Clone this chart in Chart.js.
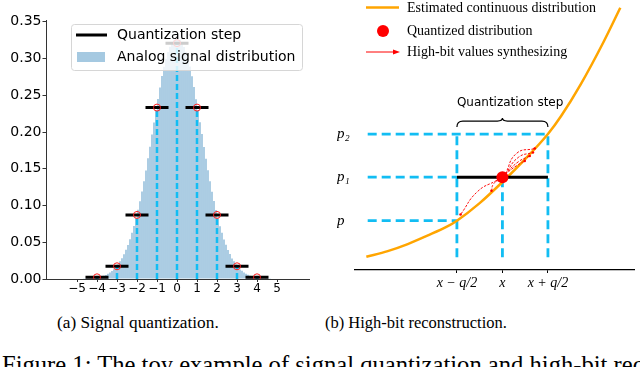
<!DOCTYPE html>
<html><head><meta charset="utf-8">
<script src="https://cdn.jsdelivr.net/npm/chart.js@4/dist/chart.umd.min.js"></script>
<style>
html,body{margin:0;padding:0;background:#fff;width:640px;height:367px;overflow:hidden;position:relative}
#wa{position:absolute;left:0;top:0;width:320px;height:300px}
#wb{position:absolute;left:320px;top:0;width:320px;height:300px}
.cap{position:absolute;font-family:"Liberation Serif","Times New Roman",serif;color:#000;white-space:nowrap;line-height:1}
</style></head><body>
<div id="wa"><canvas id="ca" width="320" height="300"></canvas></div>
<div id="wb"><canvas id="cb" width="320" height="300"></canvas></div>
<div class="cap" style="left:57px;top:314px;font-size:17.3px">(a) Signal quantization.</div>
<div class="cap" style="left:325px;top:315px;font-size:16.5px">(b) High-bit reconstruction.</div>
<div class="cap" style="left:2px;top:353px;font-size:24.6px">Figure 1: The toy example of signal quantization and high-bit reconstruction.</div>
<script>
// ---------- (a) data ----------
const histX = [-4.65,-4.55,-4.45,-4.35,-4.25,-4.15,-4.05,-3.95,-3.85,-3.75,-3.65,-3.55,-3.45,-3.35,-3.25,-3.15,-3.05,-2.95,-2.85,-2.75,-2.65,-2.55,-2.45,-2.35,
               -2.25,-2.15,-2.05,-1.95,-1.85,-1.75,-1.65,-1.55,-1.45,-1.35,-1.25,-1.15,-1.05,-0.95,-0.85,-0.75,-0.65,-0.55,-0.45,-0.35,-0.25,-0.15,-0.05,
               0.05,0.15,0.25,0.35,0.45,0.55,0.65,0.75,0.85,0.95,1.05,1.15,1.25,1.35,1.45,1.55,1.65,1.75,1.85,1.95,2.05,2.15,2.25,2.35,
               2.45,2.55,2.65,2.75,2.85,2.95,3.05,3.15,3.25,3.35,3.45,3.55,3.65,3.75,3.85,3.95,4.05,4.15,4.25,4.35,4.45,4.55,4.65];
const histY = [0.0003,0.0004,0.0006,0.0008,0.0010,0.0013,0.0017,0.0022,0.0028,0.0036,0.0045,0.0056,0.0071,0.0089,0.0110,0.0132,0.0161,0.0198,0.0241,0.0283,0.0338,0.0398,0.0462,0.0541,
               0.0628,0.0722,0.0831,0.0942,0.1058,0.1191,0.1332,0.1478,0.1642,0.1801,0.1968,0.2131,0.2292,0.2451,0.2608,0.2762,0.2889,0.2998,0.3091,0.3162,0.3208,0.3249,0.3268,
               0.3271,0.3252,0.3211,0.3158,0.3088,0.3002,0.2893,0.2758,0.2612,0.2447,0.2289,0.2134,0.1972,0.1798,0.1638,0.1481,0.1329,0.1188,0.1061,0.0939,0.0834,0.0719,0.0631,0.0538,
               0.0465,0.0395,0.0341,0.0280,0.0243,0.0196,0.0163,0.0130,0.0111,0.0087,0.0072,0.0057,0.0044,0.0035,0.0028,0.0021,0.0017,0.0012,0.0010,0.0007,0.0005,0.0004,0.0002];
const quantX = [-4,-3,-2,-1,0,1,2,3,4];
const quantY = [0.0023,0.0173,0.0872,0.2333,0.321,0.2333,0.0872,0.0173,0.0023];
const quantStep = 1;
const xTicksA = [-5,-4,-3,-2,-1,0,1,2,3,4,5];
const yTicksA = [0,0.05,0.10,0.15,0.20,0.25,0.30,0.35];
const legendA = ['Quantization step','Analog signal distribution'];

// ---------- (b) data ----------
const curveX = [-2.99,-2.52,-2.08,-1.65,-1.21,-1.0,-0.5,0.0,0.5,1.0,1.29,1.72,2.23,2.59];
const curveY = [0.30,0.43,0.59,0.78,0.99,1.12,1.52,2.0,2.52,3.09,3.50,4.22,5.20,5.96];
const qPointsX = [-1,0,1];            // x - q/2, x, x + q/2
const qPointsY = [1.12,2.11,3.09];     // p, p1, p2
const xLabelsB = ['x − q/2','x','x + q/2'];
const yLabelsB = ['p','p₁','p₂'];
const guideLeft = -2.96, guideBottom = 0.29;
const arcsX = [[-0.12,-0.55,-0.92],[-0.08,-0.20,-0.24],[0.06,0.31,0.71],[0.06,0.35,0.67],[0.06,0.35,0.60],[0.06,0.31,0.49]];
const arcsY = [[2.04,1.78,1.26],[2.05,1.95,1.80],[2.18,2.65,2.76],[2.18,2.56,2.67],[2.18,2.46,2.59],[2.18,2.37,2.48]];
const legendB = ['Estimated continuous distribution','Quantized distribution','High-bit values synthesizing'];

const CYAN = '#12bdf3';
const minus = v => v < 0 ? '−' + Math.abs(v) : String(v);

// ---------- chart (a) ----------
const dashA = [], stepA = [];
quantX.forEach((k,i)=>{
  dashA.push({x:k,y:0},{x:k,y:quantY[i]},{x:k,y:null});
  stepA.push({x:k-quantStep/2,y:quantY[i]},{x:k+quantStep/2,y:quantY[i]},{x:k+quantStep/2,y:null});
});

const legendPluginA = {
  id:'legA',
  afterDatasetsDraw(chart){
    const c = chart.ctx; c.save();
    const x=71.5,y=24.5,w=231,h=46,r=3;
    c.beginPath();
    c.moveTo(x+r,y); c.lineTo(x+w-r,y); c.quadraticCurveTo(x+w,y,x+w,y+r);
    c.lineTo(x+w,y+h-r); c.quadraticCurveTo(x+w,y+h,x+w-r,y+h);
    c.lineTo(x+r,y+h); c.quadraticCurveTo(x,y+h,x,y+h-r);
    c.lineTo(x,y+r); c.quadraticCurveTo(x,y,x+r,y); c.closePath();
    c.fillStyle='rgba(255,255,255,0.8)'; c.fill();
    c.strokeStyle='#d6d6d6'; c.lineWidth=1; c.stroke();
    c.strokeStyle='#000'; c.lineWidth=3; c.beginPath(); c.moveTo(76,35); c.lineTo(107,35); c.stroke();
    c.fillStyle='rgba(31,119,180,0.4)'; c.fillRect(77,52,28,10);
    c.fillStyle='#000'; c.font='14px "DejaVu Sans"'; c.textBaseline='middle'; c.textAlign='left';
    c.fillText(legendA[0],117,35);
    c.fillText(legendA[1],117,57);
    c.restore();
  }
};

new Chart(document.getElementById('ca'),{
  type:'bar',
  data:{datasets:[
    {type:'bar',data:histX.map((x,i)=>({x,y:histY[i]})),backgroundColor:'rgba(31,119,180,0.4)',borderWidth:0,barPercentage:0.93,categoryPercentage:1,order:4},
    {type:'line',data:dashA,borderColor:CYAN,borderWidth:2.5,borderDash:[6,3],pointRadius:0,spanGaps:false,order:3},
    {type:'line',data:stepA,borderColor:'#000',borderWidth:3,borderCapStyle:'square',pointRadius:0,spanGaps:false,order:2},
    {type:'line',data:quantX.map((x,i)=>({x,y:quantY[i]})),showLine:false,pointRadius:3.5,pointBorderWidth:1,pointBorderColor:'#ff2020',pointBackgroundColor:'rgba(0,0,0,0)',order:1}
  ]},
  options:{
    responsive:false,animation:false,
    layout:{padding:{left:0,top:20,right:11,bottom:0}},
    plugins:{legend:{display:false},tooltip:{enabled:false}},
    scales:{
      x:{type:'linear',min:-6.55,max:6.6,offset:false,
         afterBuildTicks:s=>{s.ticks=xTicksA.map(v=>({value:v}));},
         afterFit:s=>{s.height=21;},
         grid:{display:true,offset:false,drawOnChartArea:false,tickLength:3,color:'#333'},
         border:{display:true,color:'#333',width:1},
         ticks:{autoSkip:false,maxRotation:0,padding:0,color:'#000',font:{family:'DejaVu Sans',size:12},callback:v=>minus(v)}},
      y:{type:'linear',min:0,max:0.3525,
         afterBuildTicks:s=>{s.ticks=yTicksA.map(v=>({value:v}));},
         afterFit:s=>{s.width=46;},
         grid:{display:true,drawOnChartArea:false,tickLength:3.5,color:'#333'},
         border:{display:true,color:'#333',width:1},
         ticks:{padding:1,color:'#000',font:{family:'DejaVu Sans',size:14},callback:v=>v.toFixed(2)}}
    }
  },
  plugins:[legendPluginA]
});

// ---------- chart (b) ----------
const guides = [
  {x:guideLeft,y:qPointsY[2]},{x:qPointsX[2],y:qPointsY[2]},
  {x:guideLeft,y:qPointsY[1]},{x:qPointsX[0],y:qPointsY[1]},
  {x:guideLeft,y:qPointsY[0]},{x:qPointsX[0],y:qPointsY[0]},
  {x:qPointsX[0],y:guideBottom},{x:qPointsX[0],y:qPointsY[2]},
  {x:qPointsX[1],y:guideBottom},{x:qPointsX[1],y:qPointsY[1]},
  {x:qPointsX[2],y:guideBottom},{x:qPointsX[2],y:qPointsY[2]}
];
const guideSets = [];
for(let i=0;i<guides.length;i+=2){ guideSets.push(guides.slice(i,i+2)); }

const arcSets = arcsX.map((xs,j)=>({type:'line',data:xs.map((x,i)=>({x,y:arcsY[j][i]})),borderColor:'rgba(255,0,0,0.95)',borderWidth:1,borderDash:[2.5,1.5],tension:0.5,pointRadius:[0,0,1.3],pointBackgroundColor:'red',pointBorderWidth:0,order:3}));

const legendPluginB = {
  id:'legB',
  afterDatasetsDraw(chart){
    const c = chart.ctx; c.save();
    const xs = chart.scales.x, ys = chart.scales.y;
    // brace over quantization step
    const bl = xs.getPixelForValue(qPointsX[0]), br = xs.getPixelForValue(qPointsX[2]);
    const bm = (bl+br)/2, by = ys.getPixelForValue(qPointsY[2]) - 13;
    c.strokeStyle='#000'; c.lineWidth=1.2; c.beginPath();
    c.moveTo(bl,by+6); c.quadraticCurveTo(bl,by,bl+6,by);
    c.lineTo(bm-5,by); c.quadraticCurveTo(bm,by,bm,by-3);
    c.quadraticCurveTo(bm,by,bm+5,by);
    c.lineTo(br-6,by); c.quadraticCurveTo(br,by,br,by+6); c.stroke();
    c.fillStyle='#000'; c.font='12px "DejaVu Sans"'; c.textBaseline='middle'; c.textAlign='left';
    c.fillText('Quantization step',bl,by-18);
    // legend
    c.strokeStyle='#FFA500'; c.lineWidth=2.5; c.beginPath(); c.moveTo(46,7.5); c.lineTo(79,7.5); c.stroke();
    c.fillStyle='#ff0000'; c.beginPath(); c.arc(63,31,6,0,Math.PI*2); c.fill();
    c.strokeStyle='#ff0000'; c.lineWidth=1; c.beginPath(); c.moveTo(46,52); c.lineTo(74,52); c.stroke();
    c.beginPath(); c.moveTo(80,52); c.lineTo(73,49.5); c.lineTo(73,54.5); c.closePath(); c.fill();
    c.fillStyle='#000'; c.font='14px "Liberation Serif"';
    c.fillText(legendB[0],87,8.5);
    c.fillText(legendB[1],87,31);
    c.fillText(legendB[2],87,52);
    c.restore();
  }
};

new Chart(document.getElementById('cb'),{
  type:'line',
  data:{datasets:[
    ...guideSets.map(d=>({data:d,borderColor:CYAN,borderWidth:2.8,borderDash:[9,5],pointRadius:0,order:6})),
    {data:curveX.map((x,i)=>({x,y:curveY[i]})),borderColor:'#FFA500',borderWidth:2.5,cubicInterpolationMode:'monotone',pointRadius:0,order:5},
    {data:[{x:qPointsX[0],y:qPointsY[1]},{x:qPointsX[2],y:qPointsY[1]}],borderColor:'#000',borderWidth:3,pointRadius:0,order:4},
    ...arcSets,
    {data:[{x:qPointsX[1],y:qPointsY[1]}],showLine:false,pointRadius:6,pointBackgroundColor:'#ff0000',pointBorderWidth:0,order:2}
  ]},
  options:{
    responsive:false,animation:false,
    layout:{padding:{left:17,top:0,right:3,bottom:0}},
    plugins:{legend:{display:false},tooltip:{enabled:false}},
    scales:{
      x:{type:'linear',min:-3.239,max:2.891,
         afterBuildTicks:s=>{s.ticks=qPointsX.map(v=>({value:v}));},
         afterFit:s=>{s.height=30;s.paddingLeft=0;s.paddingRight=0;},
         grid:{display:true,drawOnChartArea:false,tickLength:3,color:'#000'},
         border:{display:true,color:'#000',width:1.3},
         ticks:{autoSkip:false,maxRotation:0,padding:2,color:'#000',font:{family:'Liberation Serif',size:14,style:'italic'},
                callback:(v)=>xLabelsB[qPointsX.indexOf(v)]}},
      y:{type:'linear',min:0,max:6,
         afterBuildTicks:s=>{s.ticks=qPointsY.map(v=>({value:v}));},
         afterFit:s=>{s.width=18;s.paddingTop=0;s.paddingBottom=0;},
         grid:{display:false},
         border:{display:false},
         ticks:{crossAlign:'far',padding:0,color:'#000',font:{family:'Liberation Serif',size:15,style:'italic'},
                callback:(v)=>yLabelsB[qPointsY.indexOf(v)]}}
    }
  },
  plugins:[legendPluginB]
});
</script>
</body></html>
